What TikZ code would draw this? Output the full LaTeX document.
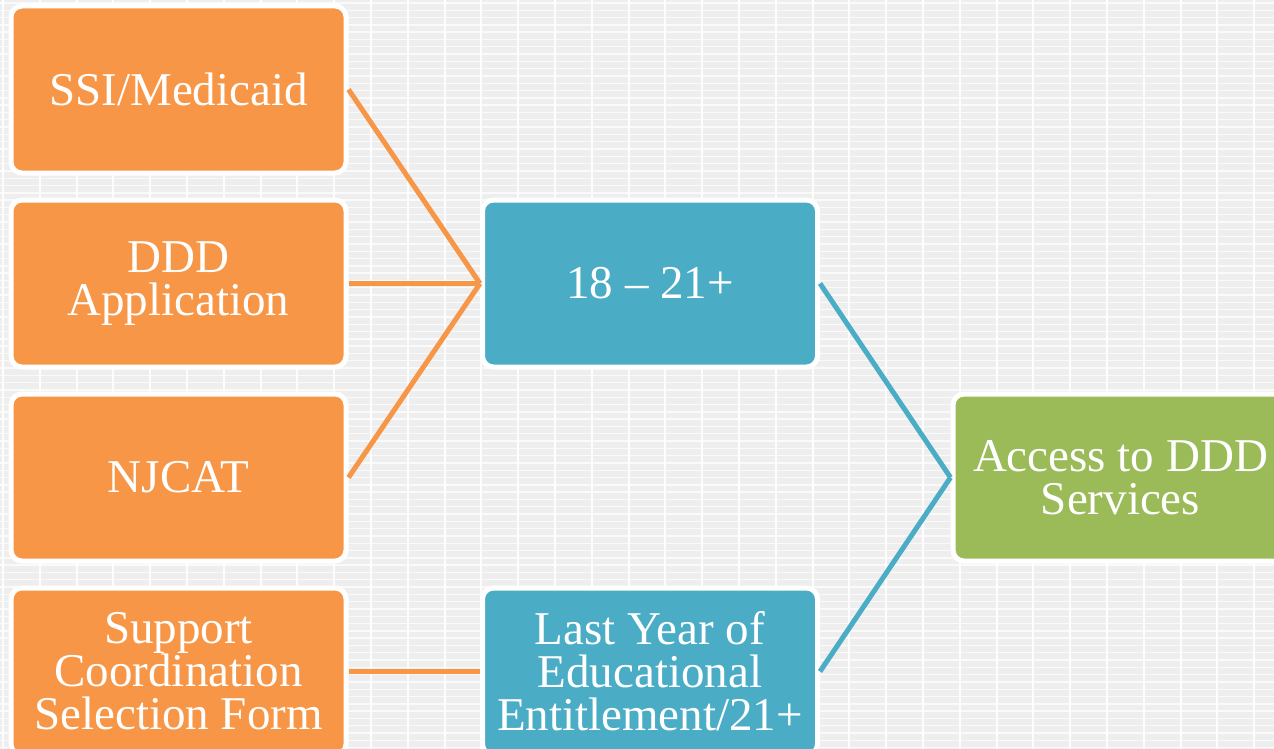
\documentclass[tikz,border=0pt]{standalone}
\usepackage{fontspec}
\setmainfont{Liberation Serif}
\definecolor{bgc}{HTML}{EEEEEE}
\definecolor{orng}{HTML}{F79646}
\definecolor{teal1}{HTML}{4BACC6}
\definecolor{grn}{HTML}{9BBB59}
\tikzset{
  box/.style={rectangle, rounded corners=11pt, draw=white, line width=5pt,
    minimum width=335pt, minimum height=167pt, text=white, align=center,
    inner sep=0pt, font=\fontsize{47}{43}\selectfont},
  obox/.style={box, fill=orng},
  tbox/.style={box, fill=teal1},
  gbox/.style={box, fill=grn},
  oline/.style={draw=orng, line width=5pt},
  tline/.style={draw=teal1, line width=5pt}
}
\begin{document}
\begin{tikzpicture}[x=1pt,y=-1pt]
\useasboundingbox (0,0) rectangle (1274,749);
\begin{scope}
\clip (0,0) rectangle (1274,749);
\fill[bgc] (0,0) rectangle (1274,749);
\foreach \i in {0,...,103} {
  \draw[white, line width=1.4pt, opacity=0.75] (0,{3+\i*7.3}) -- (1274,{3+\i*7.3});
}
\foreach \j in {0,...,35} {
  \draw[white, line width=2pt, opacity=0.9] ({3+\j*36.8},0) -- ({3+\j*36.8},749);
}
\node[obox] (ssi) at (178.5,89.5) {SSI/Medicaid};
\node[obox] (ddd) at (178.5,283.5) {DDD\\Application};
\node[obox] (njcat) at (178.5,477.5) {NJCAT};
\node[obox] (scsf) at (178.5,671.5) {Support\\Coordination\\Selection Form};
\node[tbox] (age) at (650,283.5) {18 – 21+};
\node[tbox] (last) at (650,671.5) {Last Year of\\Educational\\Entitlement/21+};
\node[gbox] (acc) at (1120.5,477.5) {Access to DDD\\Services};
\draw[oline] (ssi.east) -- (age.west);
\draw[oline] (ddd.east) -- (age.west);
\draw[oline] (njcat.east) -- (age.west);
\draw[oline] (scsf.east) -- (last.west);
\draw[tline] (age.east) -- (acc.west);
\draw[tline] (last.east) -- (acc.west);
\end{scope}
\end{tikzpicture}
\end{document}
